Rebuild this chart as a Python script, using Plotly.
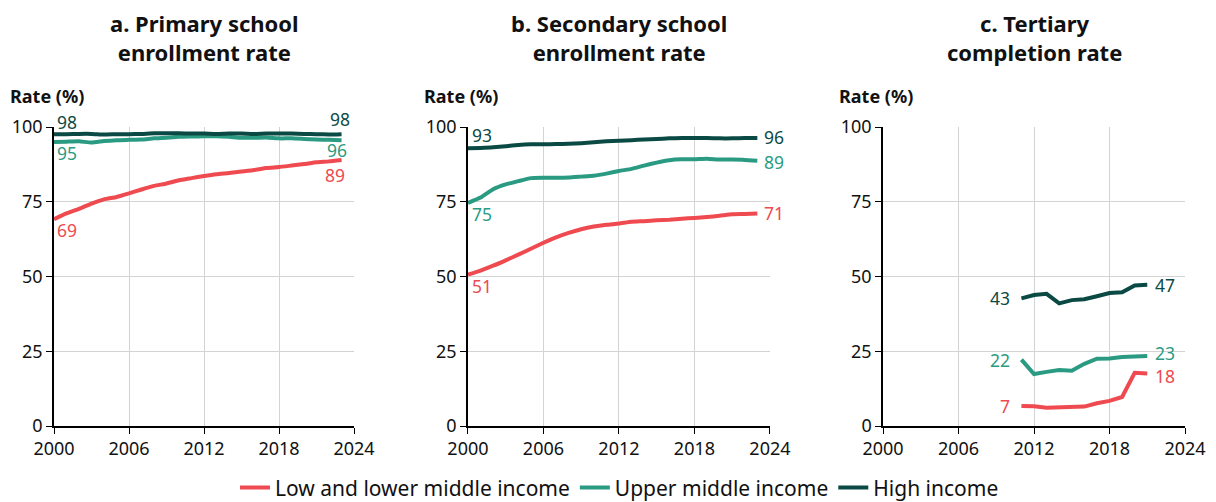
import plotly.graph_objects as go

years_ab = list(range(2000, 2024))
years_c = list(range(2011, 2022))

series_names = ["Low and lower middle income", "Upper middle income", "High income"]
colors = ["#EE4A50", "#2A9B82", "#0B4A44"]

primary_low = [69.2, 71.1, 72.6, 74.4, 75.8, 76.6, 77.8, 79.1, 80.3, 81.1, 82.2, 82.9,
               83.6, 84.2, 84.6, 85.1, 85.6, 86.3, 86.6, 87.1, 87.6, 88.2, 88.5, 89.0]
primary_upper = [95.0, 95.1, 95.2, 94.8, 95.3, 95.6, 95.7, 95.8, 96.2, 96.4, 96.7, 96.8,
                 96.9, 96.9, 96.7, 96.4, 96.4, 96.5, 96.2, 96.2, 96.0, 95.8, 95.7, 95.6]
primary_high = [97.6, 97.6, 97.7, 97.7, 97.5, 97.6, 97.6, 97.7, 97.9, 97.9, 97.9, 97.8,
                97.8, 97.7, 97.8, 97.8, 97.7, 97.8, 97.8, 97.8, 97.7, 97.6, 97.5, 97.6]

secondary_low = [50.6, 52.0, 53.6, 55.4, 57.3, 59.3, 61.3, 63.1, 64.6, 65.8, 66.7, 67.3,
                 67.7, 68.3, 68.5, 68.8, 69.0, 69.3, 69.6, 69.9, 70.3, 70.8, 70.9, 71.1]
secondary_upper = [74.6, 76.4, 79.2, 80.8, 81.9, 82.9, 83.0, 83.0, 83.1, 83.4, 83.7, 84.4,
                   85.3, 86.0, 87.1, 88.1, 88.9, 89.2, 89.2, 89.4, 89.1, 89.1, 89.0, 88.7]
secondary_high = [92.9, 93.0, 93.2, 93.6, 94.0, 94.2, 94.2, 94.3, 94.4, 94.6, 94.9, 95.2,
                  95.4, 95.6, 95.8, 96.0, 96.2, 96.3, 96.3, 96.3, 96.2, 96.2, 96.3, 96.3]

tertiary_low = [6.7, 6.6, 6.1, 6.3, 6.4, 6.5, 7.6, 8.4, 9.7, 17.8, 17.6]
tertiary_upper = [22.2, 17.4, 18.1, 18.7, 18.5, 20.8, 22.5, 22.6, 23.1, 23.3, 23.4]
tertiary_high = [42.7, 43.8, 44.2, 41.0, 42.1, 42.4, 43.4, 44.5, 44.7, 47.0, 47.2]

panel_titles = ["a. Primary school<br>enrollment rate",
                "b. Secondary school<br>enrollment rate",
                "c. Tertiary<br>completion rate"]
y_title = "Rate (%)"
x_ticks = [2000, 2006, 2012, 2018, 2024]
y_ticks = [0, 25, 50, 75, 100]

panels = [
    (years_ab, [primary_low, primary_upper, primary_high]),
    (years_ab, [secondary_low, secondary_upper, secondary_high]),
    (years_c, [tertiary_low, tertiary_upper, tertiary_high]),
]

FONT = "Noto Sans, Open Sans, sans-serif"

fig = go.Figure()
for p, (yrs, data) in enumerate(panels):
    sfx = "" if p == 0 else str(p + 1)
    for s, vals in enumerate(data):
        line = dict(color=colors[s], width=4)
        if p < 2:
            line.update(shape="spline", smoothing=0.4)
        fig.add_trace(go.Scatter(
            x=yrs, y=vals, mode="lines", name=series_names[s], line=line,
            xaxis="x" + sfx, yaxis="y" + sfx, showlegend=(p == 0),
            hoverinfo="x+y"))

domains = [[0.0, 0.2653], [0.366, 0.633], [0.733, 1.0]]
axis_common = dict(showline=True, linecolor="black", linewidth=1.5, ticks="outside",
                   ticklen=6, tickcolor="black", showgrid=True, gridcolor="#D3D3D3",
                   gridwidth=1, zeroline=False, automargin=False,
                   tickfont=dict(family=FONT, size=18, color="#111"))
layout = dict()
for p in range(3):
    sfx = "" if p == 0 else str(p + 1)
    layout["xaxis" + sfx] = dict(axis_common, domain=domains[p], range=[2000, 2024],
                                 tickvals=x_ticks, anchor="y" + sfx)
    layout["yaxis" + sfx] = dict(axis_common, range=[0, 100], tickvals=y_ticks,
                                 anchor="x" + sfx, domain=[0, 1])
fig.update_layout(**layout)

ann = []
for p in range(3):
    sfx = "" if p == 0 else str(p + 1)
    ann.append(dict(text="<b>" + panel_titles[p] + "</b>", xref="x" + sfx + " domain", x=0.5,
                    yref="paper", y=1.2993, xanchor="center", yanchor="middle", showarrow=False,
                    borderpad=0, font=dict(family=FONT, size=22, color="#111")))
    ann.append(dict(text="<b>" + y_title + "</b>", xref="x" + sfx + " domain", x=0, xshift=-46,
                    yref="paper", y=1.104, xanchor="left", yanchor="middle", showarrow=False,
                    font=dict(family=FONT, size=18, color="#111")))

def lab(p, x, y, txt, color, xanchor, xshift=0, yshift=0):
    sfx = "" if p == 0 else str(p + 1)
    ann.append(dict(text=txt, xref="x" + sfx, yref="y" + sfx, x=x, y=y, xanchor=xanchor,
                    yanchor="middle", xshift=xshift, yshift=yshift, showarrow=False,
                    borderpad=0, font=dict(family=FONT, size=17.5, color=color)))

# Panel a labels
pa = panels[0][1]
lab(0, years_ab[0], pa[2][0], f"{round(pa[2][0])}", colors[2], "left", 2, 12)
lab(0, years_ab[0], pa[1][0], f"{round(pa[1][0])}", colors[1], "left", 2, -11)
lab(0, years_ab[0], pa[0][0], f"{round(pa[0][0])}", colors[0], "left", 2, -11)
lab(0, years_ab[-1], pa[2][-1], f"{round(pa[2][-1])}", colors[2], "right", 9, 15)
lab(0, years_ab[-1], pa[1][-1], f"{round(pa[1][-1])}", colors[1], "right", 6, -10)
lab(0, years_ab[-1], pa[0][-1], f"{round(pa[0][-1])}", colors[0], "right", 4, -15)
# Panel b labels
pb = panels[1][1]
lab(1, years_ab[0], pb[2][0], f"{round(pb[2][0])}", colors[2], "left", 3, 13)
lab(1, years_ab[0], pb[1][0], f"{round(pb[1][0])}", colors[1], "left", 3, -11)
lab(1, years_ab[0], pb[0][0], f"{round(pb[0][0])}", colors[0], "left", 3, -11)
lab(1, years_ab[-1], pb[2][-1], f"{round(pb[2][-1])}", colors[2], "left", 6, 1)
lab(1, years_ab[-1], pb[1][-1], f"{round(pb[1][-1])}", colors[1], "left", 6, -1)
lab(1, years_ab[-1], pb[0][-1], f"{round(pb[0][-1])}", colors[0], "left", 6, 0)
# Panel c labels
pc = panels[2][1]
for s in range(3):
    lab(2, years_c[0], pc[s][0], f"{round(pc[s][0])}", colors[s], "right", -10, 0)
lab(2, years_c[-1], pc[2][-1], f"{round(pc[2][-1])}", colors[2], "left", 7, 0)
lab(2, years_c[-1], pc[1][-1], f"{round(pc[1][-1])}", colors[1], "left", 7, 3)
lab(2, years_c[-1], pc[0][-1], f"{round(pc[0][-1])}", colors[0], "left", 7, -3)

fig.update_layout(
    annotations=ann,
    width=1216, height=502,
    margin=dict(l=46, r=39, t=119, b=84, autoexpand=False),
    plot_bgcolor="white", paper_bgcolor="white",
    font=dict(family=FONT, color="#111"),
    legend=dict(orientation="h", x=0.5, xref="paper", xanchor="center",
                yref="container", y=0.044, yanchor="middle",
                font=dict(family=FONT, size=21, color="#111"), itemwidth=30,
                tracegroupgap=0),
)
fig.write_html("out.html")
